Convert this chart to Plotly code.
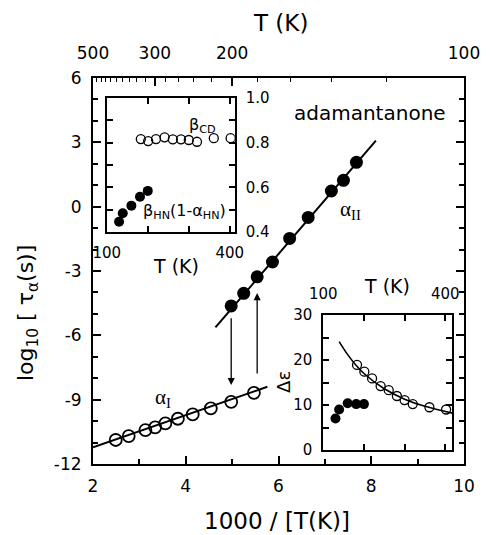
import plotly.graph_objects as go

# ---------------- data ----------------
# main panel: 1000/T and log10 tau
inv_T_I = [2.49, 2.77, 3.13, 3.34, 3.56, 3.83, 4.15, 4.54, 4.98, 5.47]
log_tau_I = [-10.88, -10.70, -10.42, -10.29, -10.11, -9.89, -9.69, -9.41, -9.10, -8.68]
inv_T_II = [4.98, 5.25, 5.54, 5.87, 6.24, 6.64, 7.14, 7.40, 7.68]
log_tau_II = [-4.63, -4.04, -3.27, -2.58, -1.48, -0.50, 0.73, 1.23, 2.07]
fit_I_x = [2.0, 5.76]
fit_I_y = [-11.22, -8.40]
fit_II_x = [4.64, 8.10]
fit_II_y = [-5.63, 3.08]
arrow_x = [4.98, 5.54]
arrow_from = [-5.13, -7.85]
arrow_to = [-8.32, -4.03]

# tick values
x_major = [2, 4, 6, 8, 10]
x_minor = [3, 5, 7, 9]
y_major = [-12, -9, -6, -3, 0, 3, 6]
y_minor = [-11, -10, -8, -7, -5, -4, -2, -1, 1, 2, 4, 5]
T_top_major = [500, 300, 200, 100]
T_top_minor = list(range(500, 99, -20))

# inset 1: stretching parameters vs T
T_open = [183, 201, 220, 241, 261, 281, 300, 320, 361, 402]
beta_CD = [0.816, 0.807, 0.816, 0.824, 0.815, 0.815, 0.812, 0.804, 0.820, 0.820]
T_filled = [130, 139, 160, 181, 200]
beta_HN = [0.446, 0.484, 0.518, 0.558, 0.584]
inset_T_ticks = [100, 200, 300, 400]
inset_T_text = ["100", "", "", "400"]
beta_ticks = [0.4, 0.5, 0.6, 0.7, 0.8, 0.9, 1.0]
beta_text = ["0.4", "", "0.6", "", "0.8", "", "1.0"]

# inset 2: relaxation strength vs T
deps_open = [18.9, 17.4, 15.9, 14.2, 13.3, 12.0, 11.1, 10.2, 9.5, 9.0]
deps_filled = [7.0, 9.0, 10.4, 10.2, 10.2]
T_fit = [139, 160, 180, 200, 250, 300, 350, 417]
deps_fit = [24.1, 21.2, 18.9, 17.0, 13.6, 11.3, 9.7, 8.2]
deps_ticks = [0, 5, 10, 15, 20, 25, 30]
deps_text = ["0", "", "10", "", "20", "", "30"]

# ---------------- layout helpers ----------------
W, H = 492, 535
L, R, T, B = 93, 22, 78, 71
PW, PH = W - L - R, H - T - B


def px(x):
    return (x - L) / PW


def py(y):
    return (H - B - y) / PH


FONT = "DejaVu Sans"
BLACK = "black"

fig = go.Figure()

# main panel
fig.add_trace(go.Scatter(x=fit_I_x, y=fit_I_y, mode="lines", xaxis="x2", yaxis="y",
                         line=dict(color=BLACK, width=2), showlegend=False, hoverinfo="skip"))
fig.add_trace(go.Scatter(x=fit_II_x, y=fit_II_y, mode="lines",
                         line=dict(color=BLACK, width=2), showlegend=False, hoverinfo="skip"))
fig.add_trace(go.Scatter(x=inv_T_I, y=log_tau_I, mode="markers",
                         marker=dict(symbol="circle-open", size=12, color=BLACK, line=dict(width=1.8)),
                         showlegend=False))
fig.add_trace(go.Scatter(x=inv_T_II, y=log_tau_II, mode="markers",
                         marker=dict(symbol="circle", size=13, color=BLACK),
                         showlegend=False))

# inset 1
fig.add_trace(go.Scatter(x=T_open, y=beta_CD, mode="markers", xaxis="x3", yaxis="y3",
                         marker=dict(symbol="circle-open", size=9, color=BLACK, line=dict(width=1.3)),
                         showlegend=False))
fig.add_trace(go.Scatter(x=T_filled, y=beta_HN, mode="markers", xaxis="x3", yaxis="y3",
                         marker=dict(symbol="circle", size=10, color=BLACK),
                         showlegend=False))

# inset 2
fig.add_trace(go.Scatter(x=T_fit, y=deps_fit, mode="lines", xaxis="x4", yaxis="y4",
                         line=dict(color=BLACK, width=1.6, shape="spline"), showlegend=False,
                         hoverinfo="skip"))
fig.add_trace(go.Scatter(x=T_open, y=deps_open, mode="markers", xaxis="x4", yaxis="y4",
                         marker=dict(symbol="circle-open", size=9, color=BLACK, line=dict(width=1.3)),
                         showlegend=False))
fig.add_trace(go.Scatter(x=T_filled, y=deps_filled, mode="markers", xaxis="x4", yaxis="y4",
                         marker=dict(symbol="circle", size=10, color=BLACK),
                         showlegend=False))

tickfont = dict(family=FONT, size=17, color=BLACK)
insetfont = dict(family=FONT, size=15, color=BLACK)

common = dict(showgrid=False, zeroline=False, showline=True, linecolor=BLACK,
              ticks="inside", tickcolor=BLACK)


def minor(vals, length, width=1.5):
    return dict(tickmode="array", tickvals=vals, ticklen=length, ticks="inside",
                tickwidth=width, tickcolor=BLACK, showgrid=False)


fig.update_layout(
    width=W, height=H,
    margin=dict(l=L, r=R, t=T, b=B),
    paper_bgcolor="white", plot_bgcolor="white",
    xaxis=dict(**common, domain=[0, 1], range=[2, 10], anchor="y",
               tickvals=x_major, ticktext=[str(v) for v in x_major],
               ticklen=8, tickwidth=1.5, linewidth=2,
               mirror=True, tickfont=tickfont, ticklabelstandoff=6,
               minor=minor(x_minor, 5)),
    xaxis2=dict(**common, overlaying="x", side="top", range=[2, 10], anchor="y",
                tickvals=[1000 / t for t in T_top_major], ticktext=[str(t) for t in T_top_major],
                ticklen=8, tickwidth=1.5, linewidth=2, tickfont=tickfont, ticklabelstandoff=10,
                minor=minor([1000 / t for t in T_top_minor], 4, 1.2)),
    yaxis=dict(**common, domain=[0, 1], range=[-12, 6], anchor="x",
               tickvals=y_major, ticktext=[str(v) for v in y_major], ticklen=8, tickwidth=1.5,
               linewidth=2, mirror="ticks", tickfont=tickfont, ticklabelstandoff=6,
               minor=minor(y_minor, 5)),
    xaxis3=dict(**common, domain=[px(107), px(237)], range=[100, 412], anchor="y3",
                tickvals=inset_T_ticks, ticktext=inset_T_text,
                ticklen=6, tickwidth=1.5, linewidth=2, mirror="ticks", tickfont=insetfont,
                ticklabelstandoff=6),
    yaxis3=dict(**common, domain=[py(232), py(98)], range=[0.4, 1.0], anchor="x3", side="right",
                tickvals=beta_ticks, ticktext=beta_text,
                ticklen=6, tickwidth=1.5, linewidth=2, mirror="ticks", tickfont=insetfont,
                ticklabelstandoff=6),
    xaxis4=dict(**common, domain=[px(327), px(458)], range=[100, 417], anchor="y4", side="top",
                tickvals=inset_T_ticks, ticktext=inset_T_text,
                ticklen=6, tickwidth=1.5, linewidth=2, mirror="ticks", tickfont=insetfont,
                ticklabelstandoff=8),
    yaxis4=dict(**common, domain=[py(450), py(315)], range=[0, 30], anchor="x4",
                tickvals=deps_ticks, ticktext=deps_text, ticklen=6, tickwidth=1.5, linewidth=2,
                mirror="ticks", tickfont=insetfont, ticklabelstandoff=6),
)

ann = []


def text(s, x, y, size, xanchor="center", yanchor="middle", angle=0, family=FONT):
    ann.append(dict(text=s, x=px(x), y=py(y), xref="paper", yref="paper", showarrow=False,
                    xanchor=xanchor, yanchor=yanchor, textangle=angle,
                    font=dict(family=family, size=size, color=BLACK)))


text("T (K)", 284, 23, 23)
text("1000 / [T(K)]", 280, 521, 23)
text("log<sub>10</sub> [ τ<sub>α</sub>(s)]", 26, 313, 22, angle=-90)
text("adamantanone", 374, 113, 20)
text("α<sub>II</sub>", 342, 210, 21, xanchor="left", family="Liberation Serif")
text("α<sub>I</sub>", 154, 398, 21, xanchor="left", family="Liberation Serif")
text("β<sub>CD</sub>", 189, 125, 16, xanchor="left")
text("β<sub>HN</sub>(1-α<sub>HN</sub>)", 142, 211, 16, xanchor="left")
text("T (K)", 177, 266, 19)
text("T (K)", 392, 286, 19)
text("Δε", 286, 382, 18, angle=-90)

for xa, y0, y1 in zip(arrow_x, arrow_from, arrow_to):
    ann.append(dict(x=xa, y=y1, ax=xa, ay=y0, xref="x", yref="y", axref="x", ayref="y",
                    showarrow=True, arrowhead=2, arrowsize=1.1, arrowwidth=1.3,
                    arrowcolor=BLACK, text=""))

fig.update_layout(annotations=ann)
fig.write_html("out.html")
